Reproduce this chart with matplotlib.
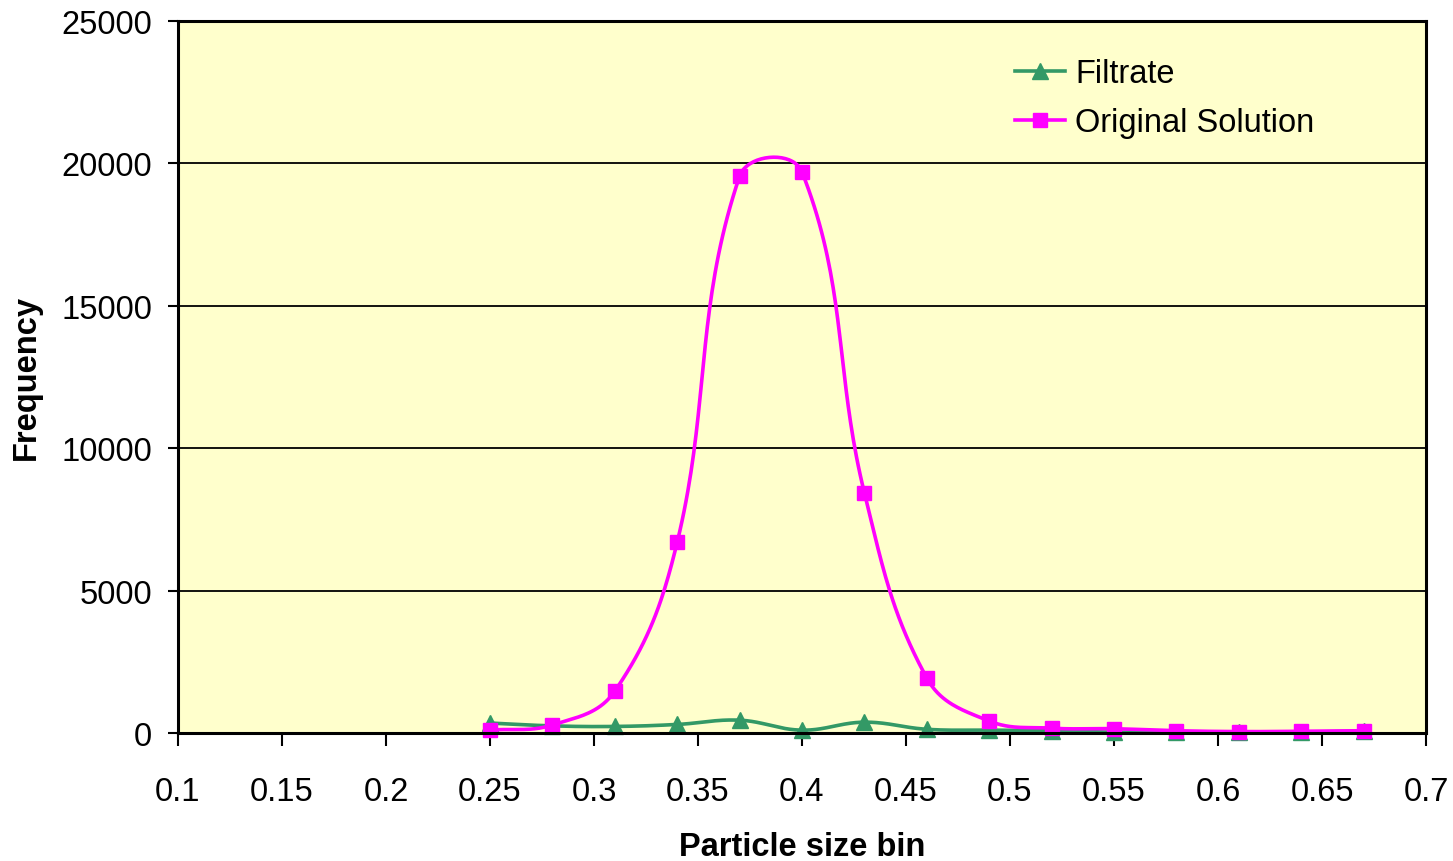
import numpy as np
import matplotlib
matplotlib.use("Agg")
import matplotlib.pyplot as plt

plt.rcParams['font.family'] = ['Liberation Sans', 'DejaVu Sans']

bins = [0.25, 0.28, 0.31, 0.34, 0.37, 0.40, 0.43, 0.46, 0.49, 0.52, 0.55, 0.58, 0.61, 0.64, 0.67]
filtrate = [350, 250, 230, 300, 450, 100, 380, 130, 100, 80, 30, 30, 30, 30, 70]
original = [100, 280, 1470, 6700, 19550, 19700, 8430, 1930, 420, 170, 150, 80, 50, 60, 80]

x_ticks = [0.1, 0.15, 0.2, 0.25, 0.3, 0.35, 0.4, 0.45, 0.5, 0.55, 0.6, 0.65, 0.7]
x_tick_labels = ['0.1', '0.15', '0.2', '0.25', '0.3', '0.35', '0.4', '0.45', '0.5', '0.55', '0.6', '0.65', '0.7']
y_ticks = [0, 5000, 10000, 15000, 20000, 25000]

GREEN = '#339966'
PINK = '#FF00FF'
FS = 23.5

fig = plt.figure(figsize=(14.53, 8.62), dpi=100)
ax = fig.add_axes([178/1453, 1-734/862, (1426-178)/1453, (734-22)/862])
ax.set_xlim(0.1, 0.7)
ax.set_ylim(0, 25000)
ax.set_facecolor('#FFFFCC')


def smooth(ax, xs, ys, k=0.38, n=40):
    pts = ax.transData.transform(np.column_stack([xs, ys]))
    out = [pts[0]]
    N = len(pts)
    for i in range(N - 1):
        p0 = pts[max(i - 1, 0)]
        p1 = pts[i]
        p2 = pts[i + 1]
        p3 = pts[min(i + 2, N - 1)]
        d12 = np.linalg.norm(p2 - p1)
        t1 = p2 - p0
        t1 = t1 / np.linalg.norm(t1)
        t2 = p3 - p1
        t2 = t2 / np.linalg.norm(t2)
        c1 = p1 + t1 * d12 * k
        c2 = p2 - t2 * d12 * k
        t = np.linspace(0, 1, n)[1:, None]
        seg = (1 - t) ** 3 * p1 + 3 * (1 - t) ** 2 * t * c1 + 3 * (1 - t) * t ** 2 * c2 + t ** 3 * p2
        out.extend(seg)
    return ax.transData.inverted().transform(np.array(out))


for yv in y_ticks[1:]:
    ax.axhline(yv, color='black', lw=1.3, zorder=1)

sf = smooth(ax, bins, filtrate)
so = smooth(ax, bins, original)
ax.plot(sf[:, 0], sf[:, 1], color=GREEN, lw=2.6, zorder=3, clip_on=False)
ax.plot(bins, filtrate, ls='none', marker='^', ms=12, color=GREEN, zorder=4, clip_on=False)
ax.plot(so[:, 0], so[:, 1], color=PINK, lw=2.6, zorder=5, clip_on=False)
ax.plot(bins, original, ls='none', marker='s', ms=10.5, color=PINK, zorder=6, clip_on=False)

# legend proxies
h1, = ax.plot([], [], color=GREEN, lw=2.6, marker='^', ms=12)
h2, = ax.plot([], [], color=PINK, lw=2.6, marker='s', ms=10.5)
ax.legend([h1, h2], ['Filtrate', 'Original Solution'], loc='upper left',
          bbox_to_anchor=(0.66, 0.966), frameon=False, fontsize=FS,
          handlelength=1.55, handletextpad=0.3, labelspacing=0.55, borderaxespad=0)

ax.set_xticks(x_ticks)
ax.set_xticklabels(x_tick_labels)
ax.set_yticks(y_ticks)
ax.set_yticklabels([str(v) for v in y_ticks])
ax.tick_params(axis='both', labelsize=FS, direction='out', width=1.5, color='black')
ax.tick_params(axis='y', length=7.5, pad=11)
ax.tick_params(axis='x', length=9, pad=22)

for s in ax.spines.values():
    s.set_linewidth(2.2)
    s.set_color('black')
    s.set_zorder(10)

ax.set_xlabel('Particle size bin', fontsize=FS, fontweight='bold', labelpad=17)
ax.set_ylabel('Frequency', fontsize=FS, fontweight='bold', labelpad=14)

fig.savefig('out.png', dpi=100)
